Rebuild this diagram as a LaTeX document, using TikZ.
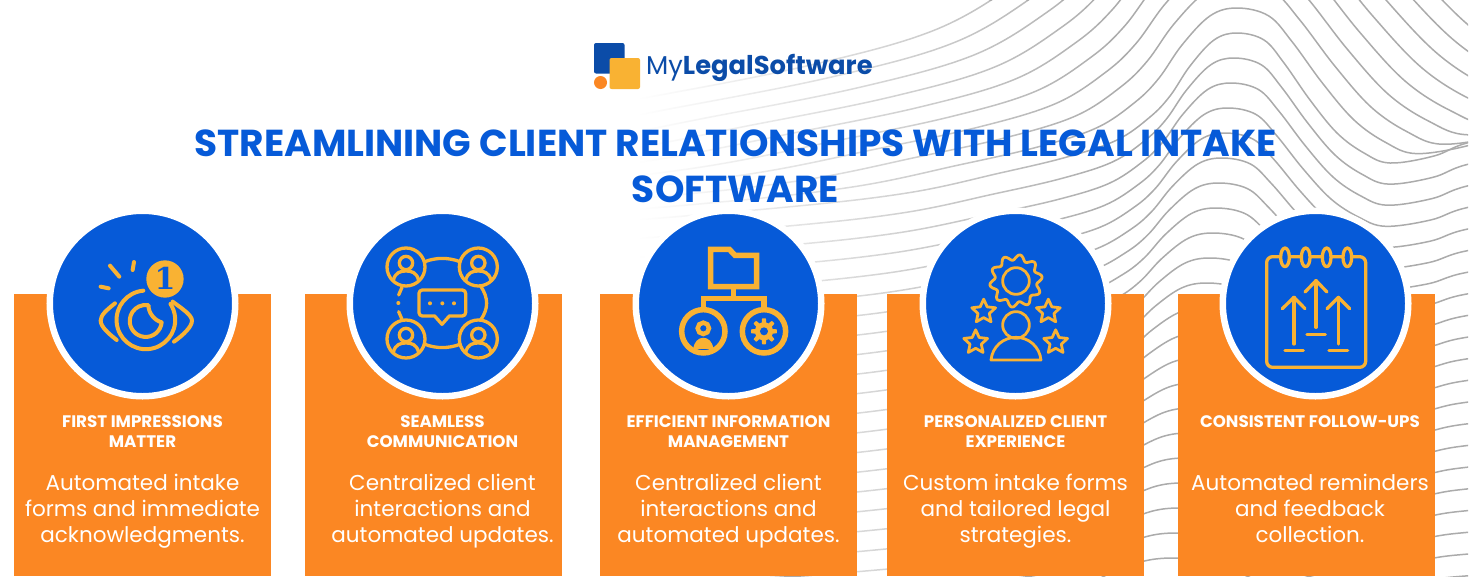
\documentclass[tikz,border=0pt]{standalone}
\usepackage{fontspec}
\setmainfont{Poppins}
\newfontfamily\slabfont{DejaVu Serif}
\usepackage{tikz}
\usetikzlibrary{shapes.geometric, fadings}
\definecolor{mainblue}{HTML}{065AD8}
\definecolor{logoblue}{HTML}{0B4CA8}
\definecolor{cardorange}{HTML}{FB8723}
\definecolor{icongold}{HTML}{F9B233}
\definecolor{wavegray}{HTML}{ABABAB}
\tikzfading[name=bg-fade, left color=transparent!0, right color=transparent!100]
\tikzset{user-pic/.pic={
	\draw (0,-12) circle[radius=20];
	\draw (-38,40) .. controls (-32,15) and (-15,12) .. (0,12) .. controls (15,12) and (32,15) .. (38,40);
}}
\begin{document}
\begin{tikzpicture}[x=1pt,y=-1pt]
	\def \cardmid{435}
	\def \headrow{415.5}
	\def \bodyrow{511}
	\tikzstyle{card-node}=[rectangle,fill=cardorange,inner sep=0pt,minimum width=257pt,minimum height=282pt]
	\tikzstyle{disc-node}=[circle,fill=mainblue,draw=white,line width=6.5pt,inner sep=0pt,minimum size=185.5pt]
	\tikzstyle{head-text}=[anchor=north,text=white,align=center,inner sep=0pt,font=\bfseries\fontsize{16.7}{20}\selectfont]
	\tikzstyle{body-text}=[text=white,align=center,inner sep=0pt,font=\fontsize{21.5}{26}\selectfont]
	\tikzstyle{title-text}=[text=mainblue,align=center,inner sep=0pt,font=\bfseries\fontsize{37.5}{46}\selectfont]
	\tikzstyle{icon-line}=[draw=icongold,line cap=round,line join=round]
	\tikzstyle{icon-scale}=[x=0.3333pt,y=-0.3333pt]
	\tikzstyle{star-node}=[star,star points=5,star point ratio=2.1,draw=icongold,line width=2.8pt,line join=round,inner sep=0pt,minimum size=25pt]
	\useasboundingbox (0,0) rectangle (1471,576);

	% waves behind everything
	\begin{scope}
	\clip (0,0) rectangle (1468,576);
	\foreach \k in {-9,...,24} {
		\pgfmathsetmacro{\xs}{\k<0 ? 1-0.17*\k : 1+0.01*\k}
		\pgfmathsetmacro{\ys}{\k<0 ? 1-0.12*\k : 1-0.03*\k}
		\pgfmathsetmacro{\xo}{\k<0 ? 1237 : 1237-3*\k}
		\begin{scope}[shift={(\xo,33+\k*25)},xscale=\xs,yscale=\ys]
		\draw[wavegray,line width=1.5pt] plot[smooth,tension=0.6] coordinates {(-700,195) (-460,175) (-330,160) (-237,140) (-170,124) (-120,107) (-87,84) (-67,63) (-47,33) (-23,7) (0,0) (27,7) (47,30) (73,67) (100,100) (127,120) (153,130) (197,123) (230,110) (300,95)};
		\end{scope}
	}
	\end{scope}
	\fill[white] (0,0) rectangle (640,576);
	\fill[white,path fading=bg-fade] (640,0) rectangle (1125,576);

	% logo
	\fill[logoblue,rounded corners=2pt] (594,43) rectangle (624.5,73.5);
	\fill[icongold,rounded corners=2pt] (609.5,58) rectangle (640,89);
	\fill[cardorange] (600.5,82.5) circle[radius=6.5];
	\node[anchor=base west,text=logoblue,inner sep=0pt,font=\fontsize{25.8}{30}\selectfont] (logo-name) at (646,74) {My\textbf{LegalSoftware}};

	% title
	\node[title-text] (title) at (735.5,166.5) {STREAMLINING CLIENT RELATIONSHIPS WITH LEGAL INTAKE\\SOFTWARE};

	% cards
	\node[card-node] (card0) at (142.5,\cardmid) {};
	\node[card-node] (card1) at (433.5,\cardmid) {};
	\node[card-node] (card2) at (728.5,\cardmid) {};
	\node[card-node] (card3) at (1015.5,\cardmid) {};
	\node[card-node] (card4) at (1306.5,\cardmid) {};

	% discs
	\node[disc-node] (disc0) at (142.5,303.5) {};
	\node[disc-node] (disc1) at (442.5,303.5) {};
	\node[disc-node] (disc2) at (728.5,303.5) {};
	\node[disc-node] (disc3) at (1015.5,303.5) {};
	\node[disc-node] (disc4) at (1315.5,303.5) {};

	% card headings
	\node[head-text] (head0) at (142.5,\headrow) {FIRST IMPRESSIONS\\MATTER};
	\node[head-text] (head1) at (442.5,\headrow) {SEAMLESS\\COMMUNICATION};
	\node[head-text] (head2) at (728.5,\headrow) {EFFICIENT INFORMATION\\MANAGEMENT};
	\node[head-text] (head3) at (1015.5,\headrow) {PERSONALIZED CLIENT\\EXPERIENCE};
	\node[head-text] (head4) at (1310,\headrow) {CONSISTENT FOLLOW-UPS};

	% card texts
	\node[body-text] (body0) at (142.5,\bodyrow) {Automated intake\\forms and immediate\\acknowledgments.};
	\node[body-text] (body1) at (442.5,\bodyrow) {Centralized client\\interactions and\\automated updates.};
	\node[body-text] (body2) at (728.5,\bodyrow) {Centralized client\\interactions and\\automated updates.};
	\node[body-text] (body3) at (1015.5,\bodyrow) {Custom intake forms\\and tailored legal\\strategies.};
	\node[body-text] (body4) at (1310,\bodyrow) {Automated reminders\\and feedback\\collection.\vphantom{g}};

	% eye icon
	\begin{scope}[shift={(0,200)},icon-scale]
	\tikzstyle{icon-a}=[icon-line,line width=4pt]
	\fill[icongold] (495,237) circle[radius=56];
	\node[text=mainblue,inner sep=0pt,font=\slabfont\bfseries\fontsize{30}{30}\selectfont] (badge) at (495,235) {1};
	\draw[icon-a] (330,197) -- (358,230);
	\draw[icon-a] (402,186) -- (398,210);
	\draw[icon-a] (302,260) -- (326,265);
	\draw[icon-a] (430,272) arc[start angle=-95,end angle=-393,radius=88];
	\draw[icon-a] (345,310) .. controls (320,330) and (302,345) .. (302,362) .. controls (302,380) and (325,400) .. (350,420);
	\draw[icon-a] (518,305) .. controls (545,325) and (576,345) .. (576,362) .. controls (576,380) and (550,405) .. (522,425);
	\draw[icon-a] (485,367) arc[start angle=5,end angle=280,radius=48] .. controls (445,340) and (465,362) .. (485,367);
	\end{scope}

	% meeting icon
	\begin{scope}[shift={(330,200)},icon-scale]
	\tikzstyle{icon-b}=[icon-line,line width=3.3pt]
	\begin{scope}[icon-b]
	\draw (228,201) circle[radius=57];
	\draw (445,201) circle[radius=57];
	\draw (228,417) circle[radius=57];
	\draw (445,417) circle[radius=57];
	\pic at (228,201) {user-pic};
	\pic at (445,201) {user-pic};
	\pic at (228,417) {user-pic};
	\pic at (445,417) {user-pic};
	\draw (285,185) .. controls (318,172) and (355,172) .. (390,185);
	\draw (285,433) .. controls (318,446) and (355,446) .. (390,433);
	\draw (452,258) .. controls (476,295) and (476,325) .. (452,360);
	\draw (216,262) -- (206,285);
	\draw (206,335) -- (216,358);
	\draw[line join=round] (277,270) -- (397,270) arc[start angle=-90,end angle=0,radius=10] -- (407,338) arc[start angle=0,end angle=90,radius=10] -- (358,348) -- (336,373) -- (314,348) -- (277,348) arc[start angle=90,end angle=180,radius=10] -- (267,280) arc[start angle=180,end angle=270,radius=10] -- cycle;
	\end{scope}
	\fill[icongold] (205,309) circle[radius=6];
	\fill[icongold] (300,310) circle[radius=6];
	\fill[icongold] (337,310) circle[radius=6];
	\fill[icongold] (372,310) circle[radius=6];
	\end{scope}

	% folder icon
	\begin{scope}[shift={(620,200)},icon-scale]
	\tikzstyle{icon-c}=[draw=icongold,line width=5.5pt,line join=miter]
	\draw[icon-c] (272,148) -- (328,148) -- (345,166) -- (410,166) -- (410,260) -- (272,260) -- cycle;
	\draw[icon-c] (341,260) -- (341,295);
	\draw[icon-c] (250,330) -- (250,295) -- (432,295) -- (432,330);
	\draw[icon-c] (250,394) circle[radius=65];
	\draw[icon-c] (432,394) circle[radius=65];
	\draw[draw=icongold,line width=4.5pt] (250,385) circle[radius=17];
	\fill[icongold] (220,447) .. controls (224,402) and (276,402) .. (280,447) -- cycle;
	\begin{scope}[shift={(432,394)}]
	\fill[icongold] plot[domain=0:360,samples=241] (\x:{33+6*max(-1,min(1,2.5*cos(8*\x)))}) -- cycle;
	\fill[mainblue] (0,0) circle[radius=12];
	\end{scope}
	\end{scope}

	% service icon
	\begin{scope}[shift={(905,200)},icon-scale]
	\tikzstyle{icon-d}=[icon-line,line width=2.8pt]
	\begin{scope}[shift={(333,243)}]
	\draw[icon-d] plot[domain=0:360,samples=181,smooth] (\x:{71+8*cos(10*\x+90)}) -- cycle;
	\draw[icon-d] (0,0) circle[radius=40];
	\end{scope}
	\draw[icon-d] (333,375) circle[radius=40];
	\draw[icon-d] (258,480) .. controls (262,440) and (295,412) .. (333,412) .. controls (371,412) and (404,440) .. (408,480) -- cycle;
	\node[star-node] (star0) at (236,335) {};
	\node[star-node] (star1) at (430,335) {};
	\node[star-node] (star2) at (212,427) {};
	\node[star-node] (star3) at (452,427) {};
	\end{scope}

	% notebook icon
	\begin{scope}[shift={(1205,200)},icon-scale]
	\tikzstyle{icon-e}=[icon-line,line width=3.3pt]
	\draw[icon-e,rounded corners=6pt] (185,170) rectangle (482,502);
	\draw[icon-e,fill=mainblue] (240,172) ellipse[x radius=13,y radius=28];
	\draw[icon-e,fill=mainblue] (302,172) ellipse[x radius=13,y radius=28];
	\draw[icon-e,fill=mainblue] (365,172) ellipse[x radius=13,y radius=28];
	\draw[icon-e,fill=mainblue] (427,172) ellipse[x radius=13,y radius=28];
	\draw[icon-e] (267,432) -- (267,292);
	\draw[icon-e] (232,326) -- (267,292) -- (300,326);
	\draw[icon-e] (333,382) -- (333,242);
	\draw[icon-e] (300,276) -- (333,242) -- (366,276);
	\draw[icon-e] (400,432) -- (400,292);
	\draw[icon-e] (366,326) -- (400,292) -- (434,326);
	\draw[icon-e] (240,452) -- (295,452);
	\draw[icon-e] (306,404) -- (361,404);
	\draw[icon-e] (372,452) -- (428,452);
	\end{scope}
\end{tikzpicture}
\end{document}
